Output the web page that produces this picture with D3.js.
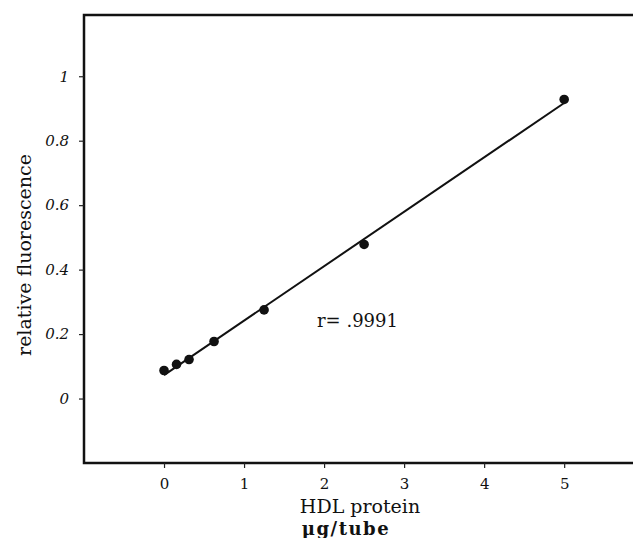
<!DOCTYPE html>
<html>
<head>
<meta charset="utf-8">
<script src="https://cdn.jsdelivr.net/npm/d3@7"></script>
<style>
  body { margin: 0; background: #fff; }
  svg text { font-family: "DejaVu Serif", "Liberation Serif", serif; fill: #111; }
</style>
</head>
<body>
<svg id="chart" width="633" height="538"></svg>
<script>
// HDL protein (ug/tube) vs relative fluorescence
const protein = [0, 0.156, 0.3125, 0.625, 1.25, 2.5, 5];
const fluorescence = [0.087, 0.106, 0.121, 0.177, 0.275, 0.478, 0.928];
const xTicks = [0, 1, 2, 3, 4, 5];
const yTicks = [0, 0.2, 0.4, 0.6, 0.8, 1];

const svg = d3.select('#chart');

const x = d3.scaleLinear().domain([-1, 5.86]).range([84, 633]);
const y = d3.scaleLinear().domain([-0.2, 1.19]).range([463, 15]);

const points = protein.map((p, i) => ({ x: p, y: fluorescence[i] }));

// least squares fit for the drawn line
const mx = d3.mean(points, d => d.x);
const my = d3.mean(points, d => d.y);
const slope = d3.sum(points, d => (d.x - mx) * (d.y - my)) / d3.sum(points, d => (d.x - mx) ** 2);
const icpt = my - slope * mx;
const fitEnds = [protein[0], protein[protein.length - 1]];

// frame: left, top, bottom
svg.append('path')
  .attr('d', `M${x.range()[1]},${y(1.19)}H${x(-1)}V${y(-0.2)}H${x.range()[1]}`)
  .attr('fill', 'none')
  .attr('stroke', '#111')
  .attr('stroke-width', 2.5);

const xAxis = svg.append('g')
  .attr('transform', `translate(0,${y(-0.2)})`)
  .call(d3.axisBottom(x).tickValues(xTicks).tickSize(5).tickPadding(10).tickFormat(d => String(d)));
xAxis.select('.domain').remove();
xAxis.selectAll('text').attr('font-size', 15);

const yAxis = svg.append('g')
  .attr('transform', `translate(${x(-1)},0)`)
  .call(d3.axisLeft(y).tickValues(yTicks).tickSize(5).tickPadding(10).tickFormat(d => String(d)));
yAxis.select('.domain').remove();
yAxis.selectAll('text').attr('font-size', 15).attr('font-style', 'italic');
svg.selectAll('.tick line').attr('stroke', '#222').attr('stroke-width', 1.2);

// fitted line
svg.append('line')
  .attr('x1', x(fitEnds[0])).attr('y1', y(slope * fitEnds[0] + icpt))
  .attr('x2', x(fitEnds[1])).attr('y2', y(slope * fitEnds[1] + icpt))
  .attr('stroke', '#111')
  .attr('stroke-width', 2);

svg.selectAll('circle.pt')
  .data(points)
  .join('circle')
  .attr('class', 'pt')
  .attr('cx', d => x(d.x))
  .attr('cy', d => y(d.y))
  .attr('r', 4.8)
  .attr('fill', '#111');

svg.append('text')
  .attr('x', 317).attr('y', 327)
  .attr('font-size', 18)
  .text('r= .9991');

svg.append('text')
  .attr('transform', 'translate(31,255) rotate(-90)')
  .attr('text-anchor', 'middle')
  .attr('font-size', 19)
  .text('relative fluorescence');

svg.append('text')
  .attr('x', 360).attr('y', 513)
  .attr('text-anchor', 'middle')
  .attr('font-size', 19)
  .text('HDL protein');

svg.append('text')
  .attr('x', 346).attr('y', 535)
  .attr('text-anchor', 'middle')
  .attr('font-size', 18)
  .attr('font-weight', 'bold')
  .attr('letter-spacing', 1.5)
  .text('µg/tube');
</script>
</body>
</html>
